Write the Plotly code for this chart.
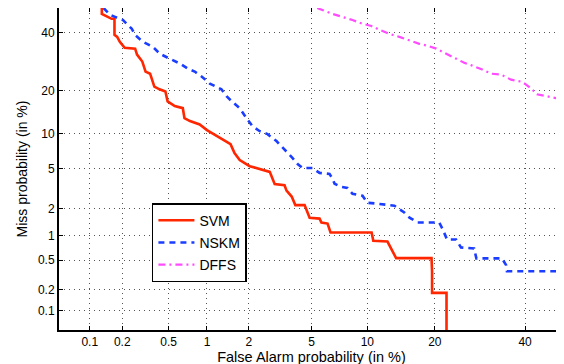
import math
import plotly.graph_objects as go

# ---- data (percent) ----
tick_pct = [0.1, 0.2, 0.5, 1, 2, 5, 10, 20, 40]
tick_labels = ["0.1", "0.2", "0.5", "1", "2", "5", "10", "20", "40"]

svm_fa = [0.13, 0.13, 0.16, 0.17, 0.17, 0.18, 0.19, 0.21, 0.26, 0.27, 0.30, 0.32, 0.35, 0.38,
          0.42, 0.47, 0.49, 0.56, 0.65, 0.67, 0.74, 0.88, 1.0, 1.24, 1.49, 1.59, 1.73, 2.03,
          2.44, 2.76, 2.97, 3.43, 3.53, 3.8, 4.0, 4.55, 4.87, 5.56, 5.7, 6.17, 6.41, 10.5,
          10.7, 12.5, 13.7, 19.4, 19.5, 19.5, 22.2, 22.2]
svm_miss = [50, 47.6, 45.6, 45.6, 39.2, 38.4, 36.5, 34.2, 33.9, 31.7, 29.2, 25.8, 25.1, 21.1,
            20.3, 19.7, 17.0, 15.8, 15.3, 13.0, 12.4, 11.7, 10.6, 9.2, 8.2, 6.9, 6.0, 5.3,
            4.9, 4.7, 3.6, 3.5, 3.1, 2.7, 2.2, 2.2, 1.6, 1.57, 1.42, 1.38, 1.09, 1.09,
            0.87, 0.85, 0.53, 0.53, 0.35, 0.18, 0.18, 0.05]

nskm_fa = [0.135, 0.155, 0.172, 0.203, 0.224, 0.243, 0.259, 0.303, 0.369, 0.423, 0.51, 0.616,
           0.71, 0.806, 0.91, 1.05, 1.28, 1.40, 1.52, 1.73, 1.93, 2.12, 2.37, 2.67, 3.05, 3.43,
           3.85, 4.13, 4.42, 5.06, 5.56, 6.33, 6.58, 6.75, 7.35, 7.91, 8.41, 9.46, 10.0, 11.1,
           13.45, 14.9, 15.7, 17.0, 20.8, 21.4, 22.3, 24.1, 25.1, 27.9, 28.4, 34.3, 35.3,
           35.5, 50]
nskm_miss = [50, 47.2, 46.4, 45.1, 43.1, 41.6, 39.2, 36.5, 34.6, 32.0, 30.2, 28.5,
             26.8, 25.8, 24.2, 22.0, 20.3, 18.3, 17.0, 15.3, 13.0, 11.35, 10.4, 9.87, 8.69, 7.47,
             6.26, 5.55, 5.1, 5.1, 4.6, 4.5, 4.04, 3.62, 3.38, 3.3, 2.88, 2.75, 2.33, 2.28,
             2.17, 1.83, 1.61, 1.42, 1.42, 1.21, 0.90, 0.90, 0.72, 0.70, 0.526, 0.526, 0.43,
             0.357, 0.357]

dffs_fa = [5.4, 5.56, 6.58, 7.45, 8.41, 9.46, 10.48, 11.45, 12.76, 14.17, 15.67, 17.3, 18.65,
           20.27, 22.15, 23.73, 25.78, 27.49, 29.7, 31.75, 34.1, 36.5, 39.0, 40.25, 41.76,
           43.0, 45.34, 48.17, 50]
dffs_miss = [50, 49.6, 47.6, 46.4, 45.1, 43.6, 42.7, 41.2, 39.6, 38.4, 36.9, 35.7, 35.0,
             33.9, 32.0, 30.6, 28.8, 27.8, 26.5, 25.1, 24.8, 23.2, 22.6, 21.7, 20.3,
             18.9, 18.3, 17.8, 17.8]


# ---- normal-deviate (probit) scale ----
def ppf(p):
    lo, hi = -10.0, 10.0
    for _ in range(80):
        mid = 0.5 * (lo + hi)
        if 0.5 * math.erfc(-mid / math.sqrt(2)) < p:
            lo = mid
        else:
            hi = mid
    return 0.5 * (lo + hi)


def probit(vals):
    return [ppf(v / 100.0) for v in vals]


rng = [ppf(0.0005), ppf(0.5)]

fig = go.Figure()
fig.add_trace(go.Scatter(x=probit(svm_fa), y=probit(svm_miss), mode="lines", name="SVM",
                         legendgroup="a",
                         line=dict(color="#ff2600", width=2.6)))
fig.add_trace(go.Scatter(x=probit(nskm_fa), y=probit(nskm_miss), mode="lines", name="NSKM",
                         legendgroup="b",
                         line=dict(color="#1a3dff", width=2.6, dash="6px,5px")))
fig.add_trace(go.Scatter(x=probit(dffs_fa), y=probit(dffs_miss), mode="lines", name="DFFS",
                         legendgroup="c",
                         line=dict(color="#ff4cff", width=2.2, dash="7px,4px,2px,4px")))

axis_common = dict(
    range=rng, tickmode="array", tickvals=probit(tick_pct), ticktext=tick_labels,
    showgrid=True, gridcolor="#555555", griddash="1px,4px", gridwidth=1,
    showline=True, linecolor="black", linewidth=2, mirror="ticks",
    ticks="inside", ticklen=4, tickcolor="black", zeroline=False,
    tickfont=dict(family="Liberation Sans", size=12, color="black"),
)

fig.update_xaxes(**axis_common,
                 title=dict(text="False Alarm probability (in %)", standoff=1,
                            font=dict(family="Liberation Sans", size=14.5, color="black")))
fig.update_yaxes(**axis_common,
                 title=dict(text="Miss probability (in %)", standoff=7,
                            font=dict(family="Liberation Sans", size=14, color="black")))

fig.update_layout(
    width=564, height=364,
    margin=dict(l=51, r=8, t=0, b=42, autoexpand=False),
    plot_bgcolor="white", paper_bgcolor="white",
    showlegend=True,
    legend=dict(x=0.184, y=0.394, xanchor="left", yanchor="top",
                bordercolor="black", borderwidth=1.5, bgcolor="white",
                tracegroupgap=1, itemwidth=36,
                font=dict(family="Liberation Sans", size=14, color="black")),
)

fig.write_html("out.html")
